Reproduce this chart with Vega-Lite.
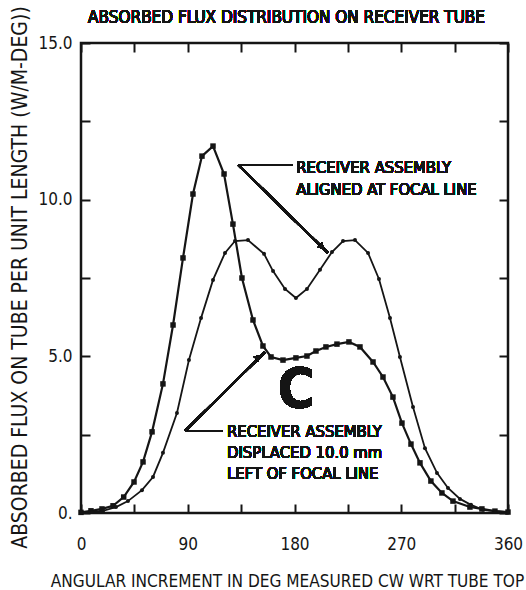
{
  "$schema": "https://vega.github.io/schema/vega-lite/v6.json",
  "width": 427,
  "height": 470,
  "autosize": "none",
  "padding": {"left": 81, "top": 43, "right": 18, "bottom": 77},
  "background": "white",
  "config": {
    "view": {"stroke": "#151515", "strokeWidth": 2.5},
    "font": "DejaVu Sans Condensed, Liberation Sans Narrow, sans-serif",
    "axis": {
      "domain": false, "grid": false, "tickColor": "#151515", "tickWidth": 2, "tickSize": -9,
      "labelFont": "DejaVu Sans Condensed, Liberation Sans Narrow, sans-serif",
      "titleFont": "DejaVu Sans Condensed, Liberation Sans Narrow, sans-serif",
      "labelFontSize": 17, "titleFontSize": 17.1, "titleFontWeight": "normal",
      "labelColor": "#151515", "titleColor": "#151515"
    }
  },
  "datasets": {
    "flux": [
      {"deg": 0, "flux": 0.02, "series": "displaced"},
      {"deg": 8.4, "flux": 0.07, "series": "displaced"},
      {"deg": 17.7, "flux": 0.13, "series": "displaced"},
      {"deg": 27, "flux": 0.23, "series": "displaced"},
      {"deg": 36, "flux": 0.51, "series": "displaced"},
      {"deg": 44.7, "flux": 0.99, "series": "displaced"},
      {"deg": 52.3, "flux": 1.63, "series": "displaced"},
      {"deg": 59.9, "flux": 2.59, "series": "displaced"},
      {"deg": 69.1, "flux": 4.12, "series": "displaced"},
      {"deg": 77.6, "flux": 6.0, "series": "displaced"},
      {"deg": 86, "flux": 8.14, "series": "displaced"},
      {"deg": 94.4, "flux": 10.18, "series": "displaced"},
      {"deg": 102, "flux": 11.39, "series": "displaced"},
      {"deg": 111.3, "flux": 11.71, "series": "displaced"},
      {"deg": 120.6, "flux": 10.82, "series": "displaced"},
      {"deg": 128.1, "flux": 9.22, "series": "displaced"},
      {"deg": 135.7, "flux": 7.5, "series": "displaced"},
      {"deg": 145, "flux": 6.16, "series": "displaced"},
      {"deg": 153.4, "flux": 5.33, "series": "displaced"},
      {"deg": 160.2, "flux": 4.98, "series": "displaced"},
      {"deg": 170.3, "flux": 4.88, "series": "displaced"},
      {"deg": 181.2, "flux": 4.95, "series": "displaced"},
      {"deg": 190.5, "flux": 5.01, "series": "displaced"},
      {"deg": 198.1, "flux": 5.17, "series": "displaced"},
      {"deg": 206.5, "flux": 5.3, "series": "displaced"},
      {"deg": 215.8, "flux": 5.39, "series": "displaced"},
      {"deg": 225.9, "flux": 5.46, "series": "displaced"},
      {"deg": 235.2, "flux": 5.3, "series": "displaced"},
      {"deg": 246.2, "flux": 4.82, "series": "displaced"},
      {"deg": 254.6, "flux": 4.34, "series": "displaced"},
      {"deg": 263, "flux": 3.7, "series": "displaced"},
      {"deg": 270.6, "flux": 2.87, "series": "displaced"},
      {"deg": 278.2, "flux": 2.2, "series": "displaced"},
      {"deg": 285.8, "flux": 1.6, "series": "displaced"},
      {"deg": 295, "flux": 1.02, "series": "displaced"},
      {"deg": 304.3, "flux": 0.64, "series": "displaced"},
      {"deg": 313.6, "flux": 0.38, "series": "displaced"},
      {"deg": 327.9, "flux": 0.19, "series": "displaced"},
      {"deg": 338, "flux": 0.13, "series": "displaced"},
      {"deg": 349, "flux": 0.06, "series": "displaced"},
      {"deg": 360, "flux": 0.03, "series": "displaced"},
      {"deg": 0, "flux": 0.02, "series": "aligned"},
      {"deg": 9.3, "flux": 0.04, "series": "aligned"},
      {"deg": 18.5, "flux": 0.07, "series": "aligned"},
      {"deg": 29.5, "flux": 0.19, "series": "aligned"},
      {"deg": 39.6, "flux": 0.38, "series": "aligned"},
      {"deg": 51.4, "flux": 0.73, "series": "aligned"},
      {"deg": 60.7, "flux": 1.15, "series": "aligned"},
      {"deg": 69.1, "flux": 1.92, "series": "aligned"},
      {"deg": 80.9, "flux": 3.19, "series": "aligned"},
      {"deg": 91, "flux": 4.88, "series": "aligned"},
      {"deg": 101.2, "flux": 6.22, "series": "aligned"},
      {"deg": 111.3, "flux": 7.44, "series": "aligned"},
      {"deg": 121.4, "flux": 8.3, "series": "aligned"},
      {"deg": 129.8, "flux": 8.68, "series": "aligned"},
      {"deg": 140.8, "flux": 8.71, "series": "aligned"},
      {"deg": 154.3, "flux": 8.27, "series": "aligned"},
      {"deg": 161.9, "flux": 7.72, "series": "aligned"},
      {"deg": 172, "flux": 7.15, "series": "aligned"},
      {"deg": 181.2, "flux": 6.86, "series": "aligned"},
      {"deg": 190.5, "flux": 7.15, "series": "aligned"},
      {"deg": 201.5, "flux": 7.76, "series": "aligned"},
      {"deg": 211.6, "flux": 8.33, "series": "aligned"},
      {"deg": 220.9, "flux": 8.68, "series": "aligned"},
      {"deg": 231, "flux": 8.71, "series": "aligned"},
      {"deg": 242, "flux": 8.3, "series": "aligned"},
      {"deg": 251.2, "flux": 7.47, "series": "aligned"},
      {"deg": 260.5, "flux": 6.22, "series": "aligned"},
      {"deg": 268.9, "flux": 4.98, "series": "aligned"},
      {"deg": 279.9, "flux": 3.38, "series": "aligned"},
      {"deg": 290, "flux": 2.07, "series": "aligned"},
      {"deg": 300.1, "flux": 1.28, "series": "aligned"},
      {"deg": 309.4, "flux": 0.8, "series": "aligned"},
      {"deg": 319.5, "flux": 0.45, "series": "aligned"},
      {"deg": 328.8, "flux": 0.26, "series": "aligned"},
      {"deg": 338.9, "flux": 0.1, "series": "aligned"},
      {"deg": 349, "flux": 0.06, "series": "aligned"},
      {"deg": 360, "flux": 0.03, "series": "aligned"}
    ]
  },
  "data": {"name": "flux"},
  "layer": [
    {
      "transform": [{"filter": "datum.series == 'displaced'"}],
      "mark": {"type": "line", "color": "#151515", "strokeWidth": 2.2, "clip": false,
               "point": {"shape": "square", "size": 30, "filled": true, "color": "#151515"}},
      "encoding": {
        "x": {"field": "deg", "type": "quantitative", "scale": {"domain": [0, 360], "nice": false},
              "axis": {"orient": "bottom", "values": [0, 45, 90, 135, 180, 225, 270, 315, 360],
                       "labelExpr": "datum.value % 90 == 0 ? datum.label : ''", "labelPadding": 32,
                       "labelFlush": false,
                       "title": "ANGULAR INCREMENT IN DEG MEASURED CW WRT TUBE TOP", "titlePadding": 20, "titleX": 206}},
        "y": {"field": "flux", "type": "quantitative", "scale": {"domain": [0, 15], "nice": false},
              "axis": {"orient": "left", "values": [0, 2.5, 5, 7.5, 10, 12.5, 15],
                       "labelExpr": "datum.value == 0 ? '0.' : (datum.value % 5 == 0 ? format(datum.value, '.1f') : '')",
                       "labelPadding": 18, "labelFlush": false,
                       "title": "ABSORBED FLUX ON TUBE PER UNIT LENGTH  (W/M-DEG))", "titleFontSize": 21,
                       "titleX": -61, "titleY": 234, "titleAngle": 270, "titleAlign": "center", "titleBaseline": "middle"}}
      }
    },
    {
      "transform": [{"filter": "datum.series == 'aligned'"}],
      "mark": {"type": "line", "color": "#151515", "strokeWidth": 1.8, "clip": false,
               "point": {"shape": "circle", "size": 16, "filled": true, "color": "#151515"}},
      "encoding": {
        "x": {"field": "deg", "type": "quantitative",
              "axis": {"orient": "top", "values": [0, 45, 90, 135, 180, 225, 270, 315, 360], "labels": false, "title": null}},
        "y": {"field": "flux", "type": "quantitative",
              "axis": {"orient": "right", "values": [0, 2.5, 5, 7.5, 10, 12.5, 15], "labels": false, "title": null}}
      }
    },
    {
      "mark": {"type": "rule", "color": "#151515", "strokeWidth": 2},
      "encoding": {
        "x": {"datum": 132.4, "type": "quantitative", "axis": null},
        "y": {"datum": 11.11, "type": "quantitative", "axis": null},
        "x2": {"datum": 178.7},
        "y2": {"datum": 11.11}
      }
    },
    {
      "mark": {"type": "rule", "color": "#151515", "strokeWidth": 2},
      "encoding": {
        "x": {"datum": 132.4, "type": "quantitative", "axis": null},
        "y": {"datum": 11.11, "type": "quantitative", "axis": null},
        "x2": {"datum": 208.2},
        "y2": {"datum": 8.3}
      }
    },
    {
      "mark": {"type": "rule", "color": "#151515", "strokeWidth": 2},
      "encoding": {
        "x": {"datum": 87.7, "type": "quantitative", "axis": null},
        "y": {"datum": 2.62, "type": "quantitative", "axis": null},
        "x2": {"datum": 118.9},
        "y2": {"datum": 2.62}
      }
    },
    {
      "mark": {"type": "rule", "color": "#151515", "strokeWidth": 2},
      "encoding": {
        "x": {"datum": 87.7, "type": "quantitative", "axis": null},
        "y": {"datum": 2.62, "type": "quantitative", "axis": null},
        "x2": {"datum": 155.1},
        "y2": {"datum": 5.14}
      }
    },
    {
      "mark": {"type": "point", "shape": "triangle-right", "angle": 44, "size": 45, "filled": true, "color": "#151515", "opacity": 1},
      "encoding": {
        "x": {"datum": 203.2, "type": "quantitative", "axis": null},
        "y": {"datum": 8.49, "type": "quantitative", "axis": null}
      }
    },
    {
      "mark": {"type": "point", "shape": "triangle-right", "angle": 315, "size": 45, "filled": true, "color": "#151515", "opacity": 1},
      "encoding": {
        "x": {"datum": 149.2, "type": "quantitative", "axis": null},
        "y": {"datum": 4.98, "type": "quantitative", "axis": null}
      }
    },
    {
      "mark": {"type": "text", "text": "ABSORBED FLUX DISTRIBUTION ON RECEIVER TUBE", "align": "center", "baseline": "alphabetic",
               "fontSize": 17, "color": "#151515"},
      "encoding": {
        "x": {"datum": 173.3, "type": "quantitative", "axis": null},
        "y": {"datum": 15.64, "type": "quantitative", "axis": null}
      }
    },
    {
      "mark": {"type": "text", "text": ["RECEIVER ASSEMBLY", "ALIGNED AT FOCAL LINE"], "align": "left", "baseline": "middle",
               "lineHeight": 22, "fontSize": 16.5, "color": "#151515"},
      "encoding": {
        "x": {"datum": 181.5, "type": "quantitative", "axis": null},
        "y": {"datum": 11.0, "type": "quantitative", "axis": null}
      }
    },
    {
      "mark": {"type": "text", "text": ["RECEIVER ASSEMBLY", "DISPLACED 10.0 mm", "LEFT OF FOCAL LINE"], "align": "left", "baseline": "middle",
               "lineHeight": 21, "fontSize": 16.5, "color": "#151515"},
      "encoding": {
        "x": {"datum": 123.1, "type": "quantitative", "axis": null},
        "y": {"datum": 2.6, "type": "quantitative", "axis": null}
      }
    },
    {
      "mark": {"type": "text", "text": "C", "align": "center", "baseline": "middle", "fontSize": 56, "fontWeight": "bold", "color": "#151515"},
      "encoding": {
        "x": {"datum": 181.3, "type": "quantitative", "axis": null},
        "y": {"datum": 3.93, "type": "quantitative", "axis": null}
      }
    }
  ],
  "resolve": {"axis": {"x": "independent", "y": "independent"}}
}
